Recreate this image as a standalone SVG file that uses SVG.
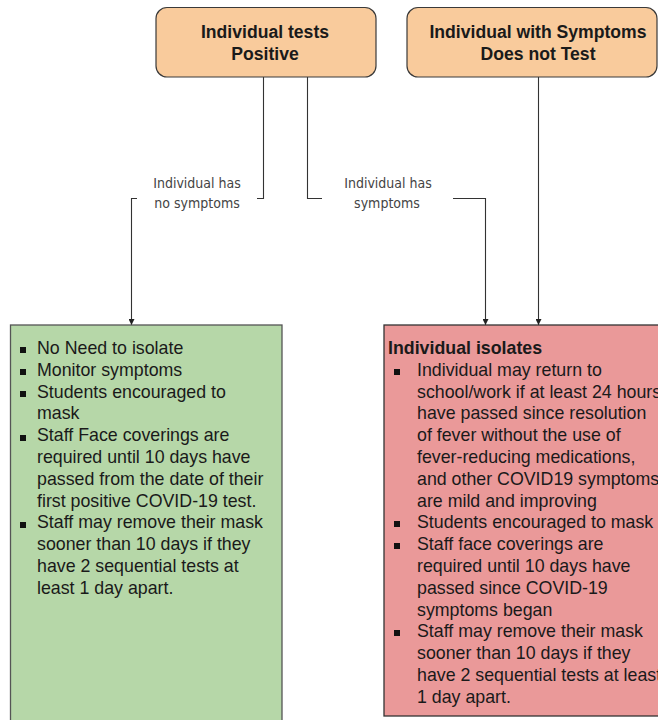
<svg xmlns="http://www.w3.org/2000/svg" width="658" height="720" viewBox="0 0 658 720">
<style>
.hdr{fill:#f9cb9c;stroke:#3a3a3a;stroke-width:1.2}
.ht{font-family:"Liberation Sans",Arial,sans-serif;font-weight:bold;font-size:17.6px;fill:#1a1a1a;text-anchor:middle}
.bt{font-family:"Liberation Sans",Arial,sans-serif;font-size:17.8px;fill:#1a1a1a}
.bb{font-family:"Liberation Sans",Arial,sans-serif;font-size:17.8px;font-weight:bold;fill:#1a1a1a}
.lbl{font-family:"DejaVu Sans Condensed","DejaVu Sans",sans-serif;font-stretch:condensed;font-size:14px;fill:#444;text-anchor:middle}
.conn{fill:none;stroke:#333;stroke-width:1.1}
.bul{fill:#111}
</style>
<defs>
<marker id="arr" viewBox="0 0 10 10" refX="10" refY="5" markerWidth="6" markerHeight="6" orient="auto" markerUnits="userSpaceOnUse">
<path d="M0,0 L10,5 L0,10 z" fill="#222"/>
</marker>
</defs>
<rect width="658" height="720" fill="#fff"/>

<g id="connectors">
<polyline class="conn" stroke="#8a8a8a" points="263.5,77 263.5,198.5 257,198.5"/>
<polyline class="conn" points="137,198.5 131.5,198.5 131.5,325" marker-end="url(#arr)"/>
<polyline class="conn" points="307.5,77 307.5,198.5 322,198.5"/>
<polyline class="conn" points="453,198.5 485.5,198.5 485.5,325" marker-end="url(#arr)"/>
<line class="conn" x1="538.5" y1="77" x2="538.5" y2="325" marker-end="url(#arr)"/>
<text class="lbl" x="197" y="188">Individual has</text>
<text class="lbl" x="197" y="208">no symptoms</text>
<text class="lbl" x="388" y="188">Individual has</text>
<text class="lbl" x="387" y="208">symptoms</text>
</g>

<g id="node-positive">
<rect class="hdr" x="156" y="7.5" width="220" height="69.5" rx="11"/>
<text class="ht" x="265" y="38">Individual tests</text>
<text class="ht" x="265" y="60">Positive</text>
</g>

<g id="node-nottest">
<rect class="hdr" x="407" y="7.5" width="250" height="69.5" rx="11"/>
<text class="ht" x="538" y="38">Individual with Symptoms</text>
<text class="ht" x="538" y="60">Does not Test</text>
</g>

<g id="node-noisolate">
<rect x="10.5" y="325" width="271.5" height="410" fill="#b6d7a8" stroke="#555" stroke-width="1.3"/>
<rect class="bul" x="20" y="347" width="6" height="6"/>
<rect class="bul" x="20" y="369" width="6" height="6"/>
<rect class="bul" x="20" y="391" width="6" height="6"/>
<rect class="bul" x="20" y="435" width="6" height="6"/>
<rect class="bul" x="20" y="522" width="6" height="6"/>
<text class="bt" x="37" y="354">No Need to isolate</text>
<text class="bt" x="37" y="375.8">Monitor symptoms</text>
<text class="bt" x="37" y="397.6">Students encouraged to</text>
<text class="bt" x="37" y="419.4">mask</text>
<text class="bt" x="37" y="441.2">Staff Face coverings are</text>
<text class="bt" x="37" y="463">required until 10 days have</text>
<text class="bt" x="37" y="484.8">passed from the date of their</text>
<text class="bt" x="37" y="506.6">first positive COVID-19 test.</text>
<text class="bt" x="37" y="528.4">Staff may remove their mask</text>
<text class="bt" x="37" y="550.2">sooner than 10 days if they</text>
<text class="bt" x="37" y="572">have 2 sequential tests at</text>
<text class="bt" x="37" y="593.8">least 1 day apart.</text>
</g>

<g id="node-isolates">
<rect x="384" y="325" width="290" height="391" fill="#ea9999" stroke="#333" stroke-width="1.3"/>
<text class="bb" x="388" y="354">Individual isolates</text>
<rect class="bul" x="394" y="369" width="6" height="6"/>
<rect class="bul" x="394" y="521" width="6" height="6"/>
<rect class="bul" x="394" y="543" width="6" height="6"/>
<rect class="bul" x="394" y="630" width="6" height="6"/>
<text class="bt" x="417" y="375.8">Individual may return to</text>
<text class="bt" x="417" y="397.6">school/work if at least 24 hours</text>
<text class="bt" x="417" y="419.4">have passed since resolution</text>
<text class="bt" x="417" y="441.2">of fever without the use of</text>
<text class="bt" x="417" y="463">fever-reducing medications,</text>
<text class="bt" x="417" y="484.8">and other COVID19 symptoms</text>
<text class="bt" x="417" y="506.6">are mild and improving</text>
<text class="bt" x="417" y="528.4">Students encouraged to mask</text>
<text class="bt" x="417" y="550.2">Staff face coverings are</text>
<text class="bt" x="417" y="572">required until 10 days have</text>
<text class="bt" x="417" y="593.8">passed since COVID-19</text>
<text class="bt" x="417" y="615.6">symptoms began</text>
<text class="bt" x="417" y="637.4">Staff may remove their mask</text>
<text class="bt" x="417" y="659.2">sooner than 10 days if they</text>
<text class="bt" x="417" y="681">have 2 sequential tests at least</text>
<text class="bt" x="417" y="702.8">1 day apart.</text>
</g>
</svg>
